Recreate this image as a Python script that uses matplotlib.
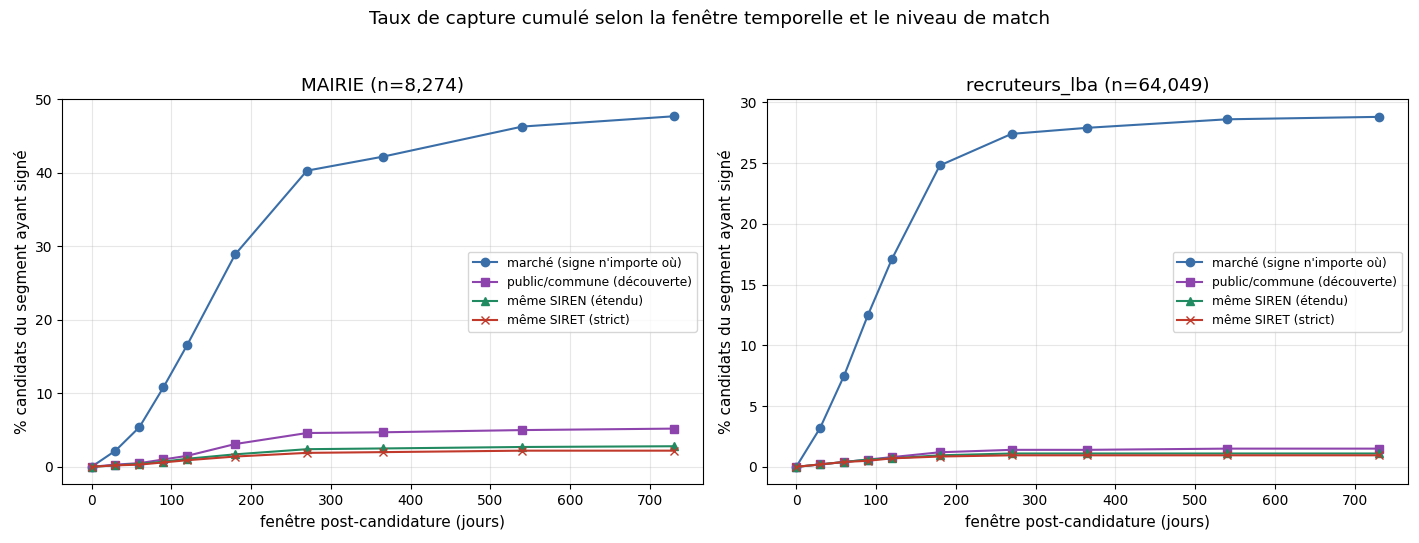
import numpy as np
import matplotlib
matplotlib.use("Agg")
import matplotlib.pyplot as plt

jours = [0, 30, 60, 90, 120, 180, 270, 365, 540, 730]

# MAIRIE (n=8,274)
mairie_marche = [0, 2.2, 5.4, 10.8, 16.6, 28.9, 40.3, 42.2, 46.3, 47.7]
mairie_public = [0, 0.3, 0.5, 1.0, 1.5, 3.1, 4.6, 4.7, 5.0, 5.2]
mairie_siren = [0, 0.2, 0.4, 0.7, 1.1, 1.7, 2.4, 2.5, 2.7, 2.8]
mairie_siret = [0, 0.2, 0.3, 0.6, 0.9, 1.4, 1.9, 2.0, 2.2, 2.2]

# recruteurs_lba (n=64,049)
lba_marche = [0, 3.2, 7.5, 12.5, 17.1, 24.8, 27.4, 27.9, 28.6, 28.8]
lba_public = [0, 0.2, 0.4, 0.6, 0.8, 1.2, 1.4, 1.4, 1.5, 1.5]
lba_siren = [0, 0.2, 0.4, 0.6, 0.7, 0.95, 1.1, 1.1, 1.1, 1.1]
lba_siret = [0, 0.2, 0.4, 0.5, 0.7, 0.85, 0.95, 0.95, 0.95, 0.95]

labels = ["marché (signe n'importe où)", "public/commune (découverte)",
          "même SIREN (étendu)", "même SIRET (strict)"]
colors = ["#3a6ea8", "#8e44ad", "#218a60", "#c0392b"]
markers = ["o", "s", "^", "x"]

panels = [
    ("MAIRIE (n=8,274)", [mairie_marche, mairie_public, mairie_siren, mairie_siret]),
    ("recruteurs_lba (n=64,049)", [lba_marche, lba_public, lba_siren, lba_siret]),
]

fig, axes = plt.subplots(1, 2, figsize=(14.19, 5.43), dpi=100)
fig.subplots_adjust(left=0.044, right=0.992, top=0.817, bottom=0.108, wspace=0.1)
fig.suptitle("Taux de capture cumulé selon la fenêtre temporelle et le niveau de match",
             fontsize=13.2, y=0.982)

for ax, (title, series) in zip(axes, panels):
    for vals, lab, c, m in zip(series, labels, colors, markers):
        ax.plot(jours, vals, marker=m, color=c, label=lab, markersize=6, linewidth=1.5)
    ax.set_title(title, fontsize=13.2)
    ax.set_xlabel("fenêtre post-candidature (jours)", fontsize=11)
    ax.set_ylabel("% candidats du segment ayant signé", fontsize=11)
    ax.grid(True, alpha=0.3)
    ax.legend(loc="center right", fontsize=8.8)

axes[0].set_ylim(top=50)
axes[0].set_xticks(range(0, 701, 100))
axes[1].set_xticks(range(0, 701, 100))

fig.savefig("out.png")
